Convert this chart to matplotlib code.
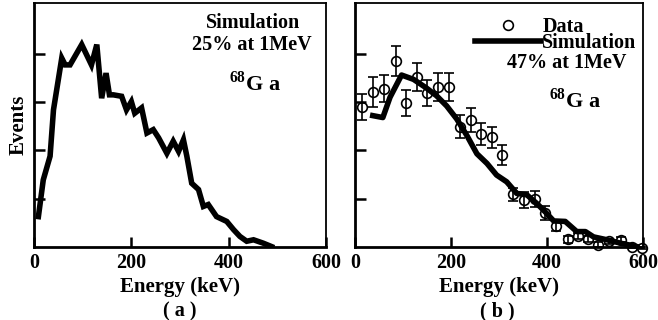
import matplotlib
matplotlib.use("Agg")
import matplotlib.pyplot as plt
import numpy as np

plt.rcParams['font.family'] = ['Liberation Serif', 'DejaVu Serif']
plt.rcParams['font.weight'] = 'bold'
plt.rcParams['axes.labelweight'] = 'bold'
plt.rcParams['mathtext.fontset'] = 'custom'
plt.rcParams['mathtext.rm'] = 'Liberation Serif:bold'
plt.rcParams['mathtext.bf'] = 'Liberation Serif:bold'

# (a) simulated spectrum, 25% resolution at 1 MeV
sim_a_E = [9, 19, 33, 40, 57, 64, 74, 98, 118, 129, 139, 148, 155, 163, 180, 190,
           200, 207, 221, 232, 245, 256, 273, 286, 297, 307, 314, 324, 338, 348,
           358, 375, 396, 410, 423, 437, 451, 471, 488]
sim_a_N = [0.63, 1.39, 1.88, 2.84, 3.91, 3.77, 3.77, 4.19, 3.77, 4.19, 3.08, 3.60,
           3.15, 3.15, 3.12, 2.84, 3.01, 2.77, 2.88, 2.36, 2.43, 2.26, 1.94, 2.19,
           1.98, 2.22, 1.88, 1.32, 1.19, 0.84, 0.88, 0.63, 0.53, 0.36, 0.22, 0.12,
           0.15, 0.08, 0.01]

# (b) measured data with errors and simulation at 47% resolution
data_E = [14, 37, 60, 85, 106, 129, 149, 172, 195, 219, 241, 263, 286, 307, 329,
          352, 375, 396, 419, 443, 464, 485, 507, 530, 554, 577, 598]
data_N = [2.89, 3.20, 3.28, 3.85, 2.99, 3.52, 3.18, 3.32, 3.32, 2.49, 2.63, 2.34,
          2.27, 1.90, 1.09, 0.97, 1.00, 0.70, 0.44, 0.16, 0.23, 0.16, 0.05, 0.12,
          0.15, 0.00, -0.02]
data_err = [0.27, 0.31, 0.28, 0.31, 0.27, 0.29, 0.27, 0.29, 0.29, 0.24, 0.24, 0.22,
            0.21, 0.21, 0.14, 0.17, 0.17, 0.14, 0.10, 0.07, 0.07, 0.06, 0.05, 0.05,
            0.05, 0.03, 0.03]
sim_b_E = [37, 58, 73, 97, 122, 149, 170, 191, 212, 233, 254, 275, 295, 316, 337,
           358, 379, 396, 414, 438, 462, 480, 497, 525, 553, 587]
sim_b_N = [2.72, 2.68, 3.10, 3.56, 3.47, 3.29, 3.13, 2.92, 2.65, 2.31, 1.93, 1.73,
           1.49, 1.35, 1.11, 1.08, 0.90, 0.73, 0.54, 0.53, 0.32, 0.32, 0.21, 0.15,
           0.08, 0.01]

xticks = [0, 200, 400, 600]
yticks = [1, 2, 3, 4]

fig = plt.figure(figsize=(6.58, 3.2), dpi=100)
ax_a = fig.add_axes([0.0517, 0.228, 0.4438, 0.7625])
ax_b = fig.add_axes([0.5395, 0.228, 0.4377, 0.7625])

for ax in (ax_a, ax_b):
    ax.set_xlim(0, 600)
    ax.set_ylim(0, 5.05)
    ax.set_xticks(xticks)
    ax.set_yticks(yticks)
    ax.set_yticklabels([])
    ax.tick_params(direction='in', length=8, width=1.8, labelsize=14.5, pad=4)
    ax.tick_params(axis='x', length=7)
    for side in ('left', 'bottom'):
        ax.spines[side].set_linewidth(2.0)
    for side in ('top', 'right'):
        ax.spines[side].set_linewidth(1.3)
    ax.set_xlabel('Energy (keV)', fontsize=15, labelpad=3)

ax_a.plot(sim_a_E, sim_a_N, color='black', lw=4, solid_joinstyle='miter')
ax_a.set_ylabel('Events', fontsize=15, labelpad=0)
ax_a.text(0.75, 0.918, 'Simulation', transform=ax_a.transAxes, ha='center',
          va='center', fontsize=14.5)
ax_a.text(0.745, 0.828, '25% at 1MeV', transform=ax_a.transAxes, ha='center',
          va='center', fontsize=14.5)
ax_a.text(0.757, 0.672, r'$^{68}$G a', transform=ax_a.transAxes, ha='center',
          va='center', fontsize=16)

ax_b.errorbar(data_E, data_N, yerr=data_err, fmt='none', ecolor='black',
              elinewidth=1.2, capsize=3.5, capthick=1.2, clip_on=False, zorder=3)
ax_b.plot(data_E, data_N, 'o', ms=7, mfc='none', mec='black', mew=1.2,
          label='Data', clip_on=False, zorder=4)
ax_b.plot(sim_b_E, sim_b_N, color='black', lw=4, label='Simulation', zorder=2)
ax_b.legend(loc='upper right', bbox_to_anchor=(0.985, 0.952), frameon=False,
            fontsize=14.5, handlelength=3.3, handletextpad=0.05,
            labelspacing=-0.2, borderaxespad=0.0, borderpad=0.1)
ax_b.text(0.736, 0.755, '47% at 1MeV', transform=ax_b.transAxes, ha='center',
          va='center', fontsize=14.5)
ax_b.text(0.764, 0.602, r'$^{68}$G a', transform=ax_b.transAxes, ha='center',
          va='center', fontsize=16)

fig.text(180 / 658, 1 - 311 / 320, '( a )', ha='center', va='center', fontsize=14.5)
fig.text(497 / 658, 1 - 311 / 320, '( b )', ha='center', va='center', fontsize=14.5)

fig.savefig('out.png', dpi=100)
